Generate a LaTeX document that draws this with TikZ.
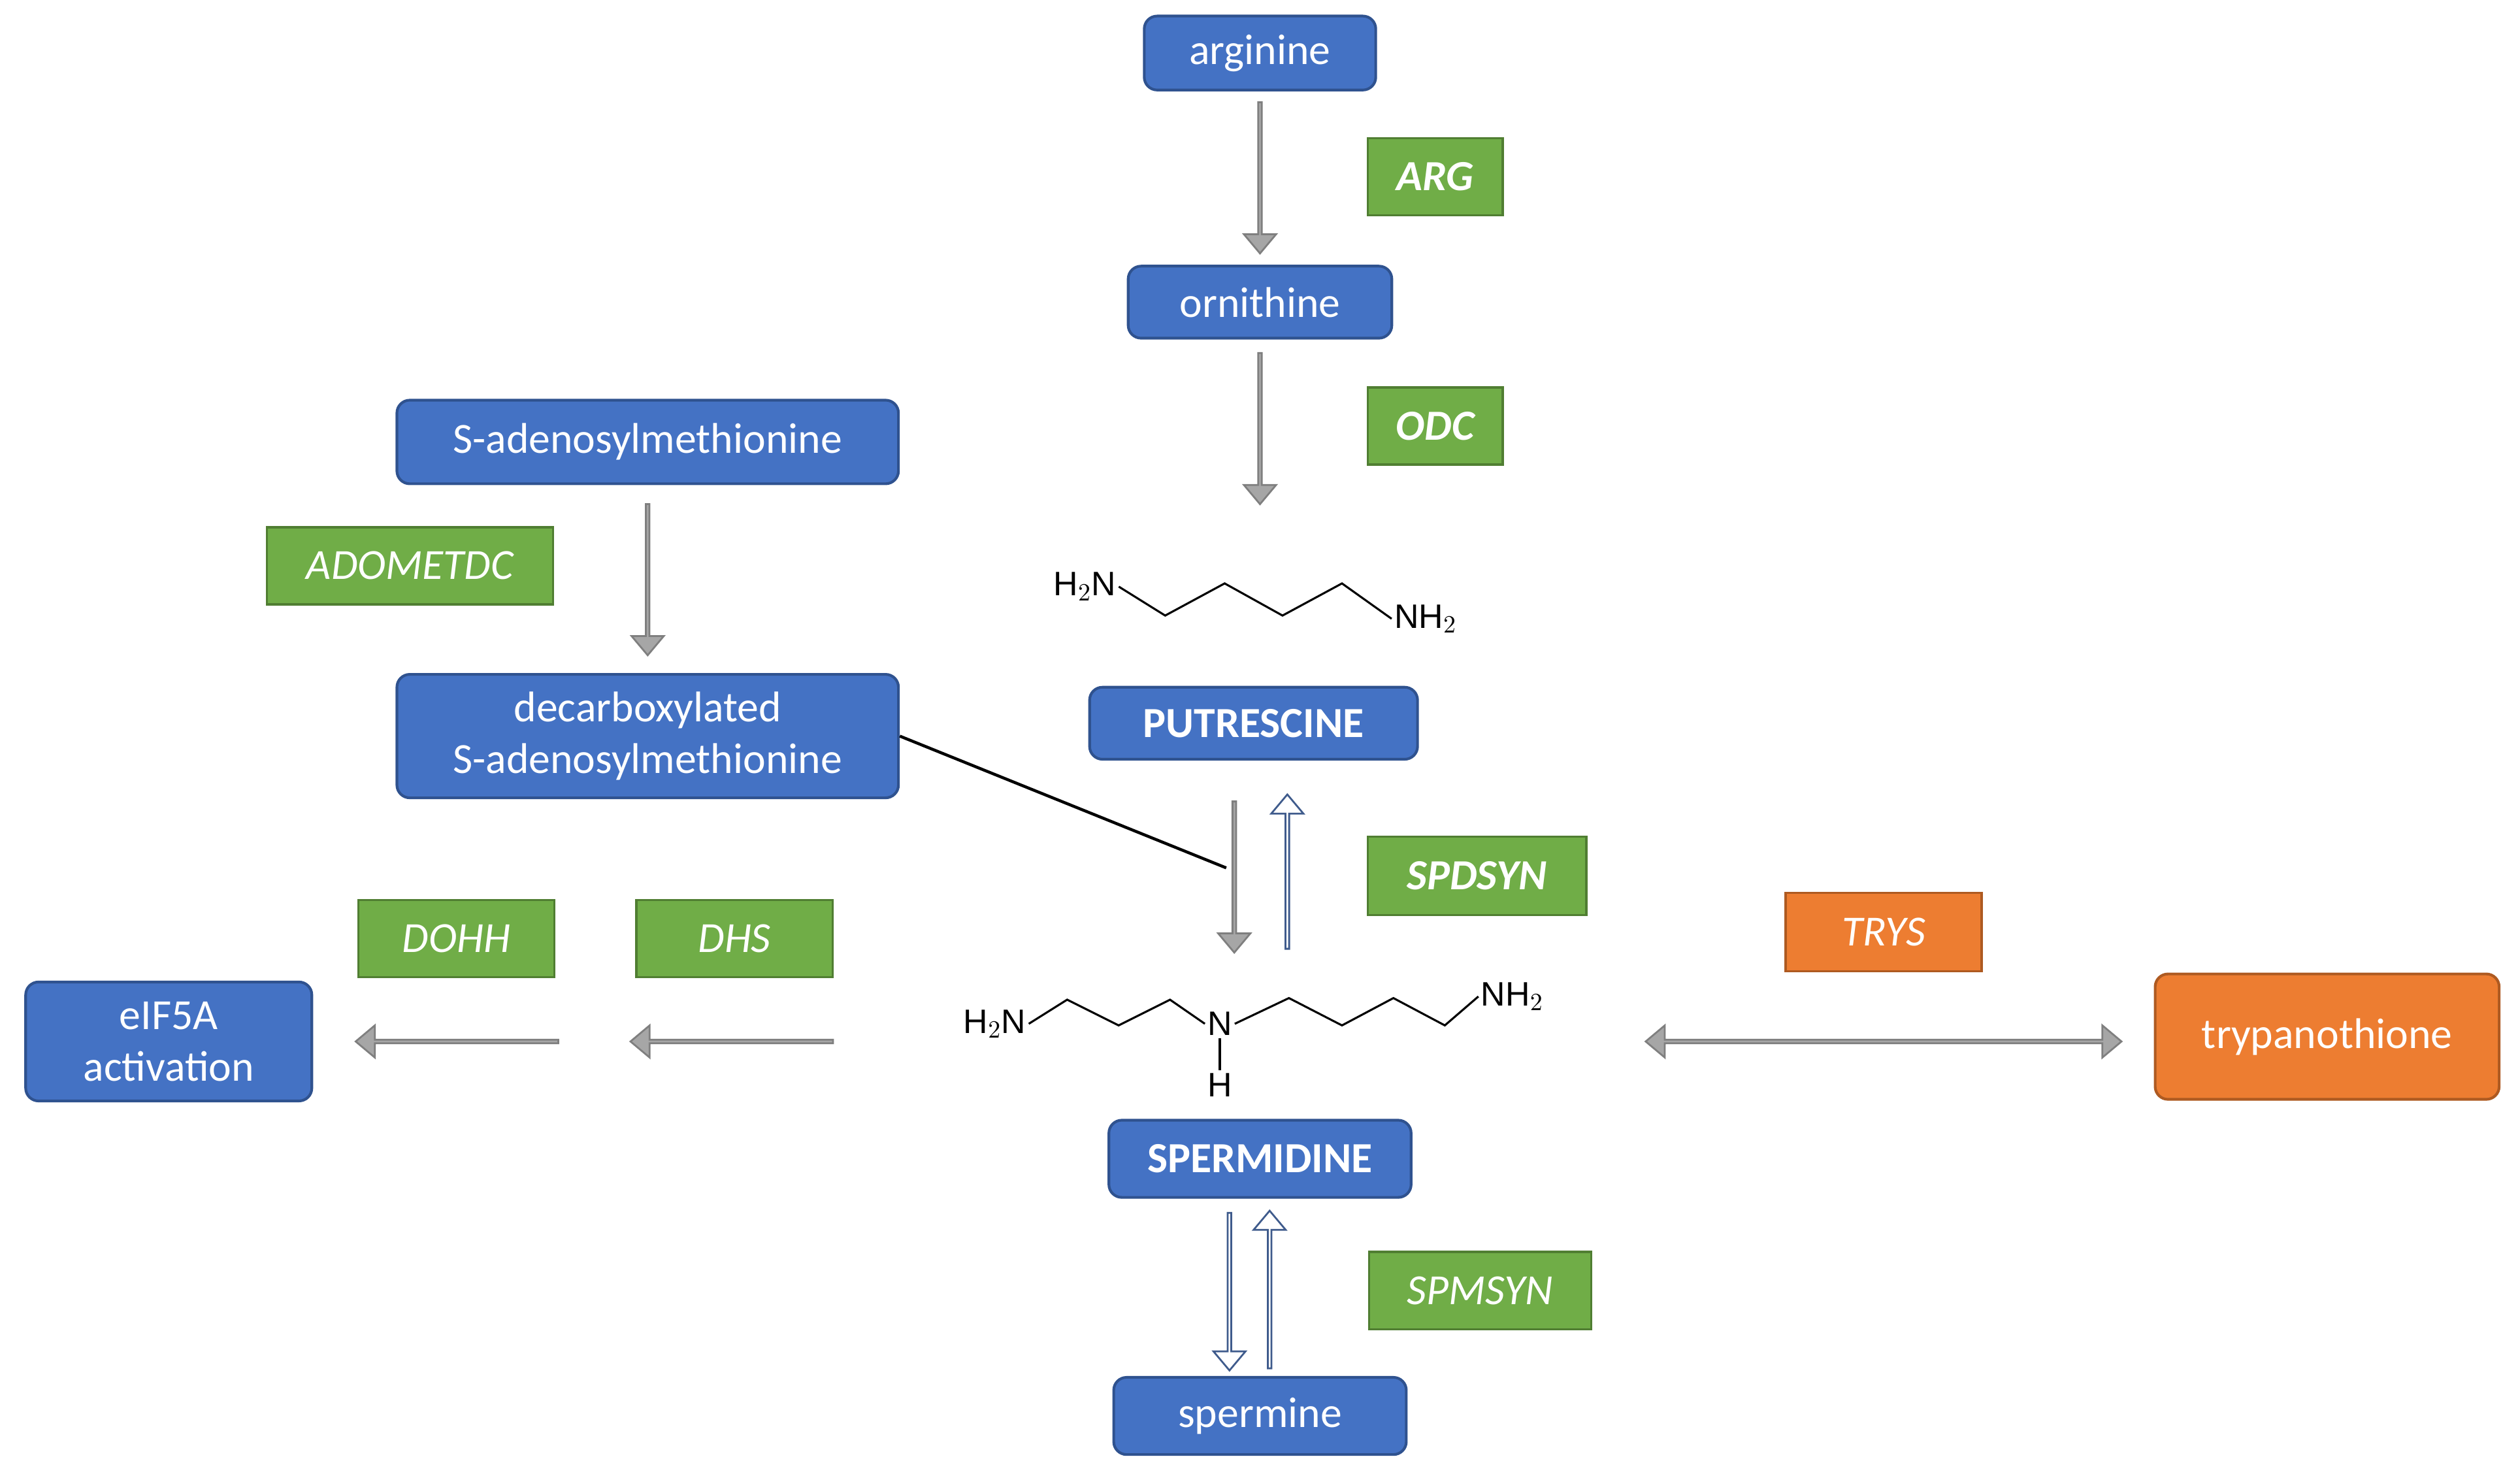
\documentclass[tikz,border=0pt]{standalone}
\usepackage{fontspec}
\setmainfont{Carlito}
\newfontfamily\chemf{Liberation Sans}
\usetikzlibrary{shapes.arrows}
\definecolor{bfill}{HTML}{4472C4}\definecolor{bdraw}{HTML}{2F528F}
\definecolor{gfill}{HTML}{70AD47}\definecolor{gdraw}{HTML}{507E32}
\definecolor{ofill}{HTML}{ED7D31}\definecolor{odraw}{HTML}{AE5A21}
\definecolor{afill}{HTML}{A6A6A6}\definecolor{adraw}{HTML}{7F7F7F}
\begin{document}
\begin{tikzpicture}[x=0.025cm,y=-0.025cm,
 box/.style={draw=bdraw,fill=bfill,line width=1.2pt,rounded corners=0.2cm,text=white,font=\fontsize{19}{23}\selectfont,align=center,inner sep=0pt},
 enz/.style={draw=gdraw,fill=gfill,line width=1pt,text=white,font=\fontsize{19}{23}\selectfont\itshape,inner sep=0pt},
 arr/.style={single arrow,draw=adraw,fill=afill,line width=0.8pt,minimum width=0.5cm,single arrow head extend=0.11cm,inner sep=0pt,single arrow tip angle=80},
 warr/.style={arr,fill=white,draw=bdraw!80!gray},
 chem/.style={font=\chemf\fontsize{15}{17}\selectfont,inner sep=1pt},
 bond/.style={line width=0.9pt}]
\useasboundingbox (0,0) rectangle (1568,918);
% boxes
\node[box,minimum width=3.6cm,minimum height=1.15cm] (arg) at (784,33) {arginine};
\node[box,minimum width=4.1cm,minimum height=1.12cm] (orn) at (784,188) {ornithine};
\node[box,minimum width=7.8cm,minimum height=1.3cm] (sam) at (403,275) {S-adenosylmethionine};
\node[box,minimum width=7.8cm,minimum height=1.92cm] (dsam) at (403,458) {decarboxylated\\S-adenosylmethionine};
\node[box,minimum width=5.1cm,minimum height=1.12cm,font=\fontsize{19}{23}\selectfont\bfseries] (put) at (780,450) {PUTRESCINE};
\node[box,minimum width=4.7cm,minimum height=1.2cm,font=\fontsize{19}{23}\selectfont\bfseries] (spd) at (784,721) {SPERMIDINE};
\node[box,minimum width=4.55cm,minimum height=1.2cm] (spm) at (784,881) {spermine};
\node[box,minimum width=4.45cm,minimum height=1.85cm] (eif) at (105,648) {eIF5A\\activation};
\node[box,draw=odraw,fill=ofill,minimum width=5.35cm,minimum height=1.95cm] (try) at (1448,645) {trypanothione};
% enzymes
\node[enz,minimum width=2.1cm,minimum height=1.2cm,font=\fontsize{19}{23}\selectfont\bfseries\itshape] (ARG) at (893,110) {ARG};
\node[enz,minimum width=2.1cm,minimum height=1.2cm,font=\fontsize{19}{23}\selectfont\bfseries\itshape] (ODC) at (893,265) {ODC};
\node[enz,minimum width=4.45cm,minimum height=1.2cm] (ADO) at (255,352) {ADOMETDC};
\node[enz,minimum width=3.4cm,minimum height=1.22cm,font=\fontsize{19}{23}\selectfont\bfseries\itshape] (SPD) at (919,545) {SPDSYN};
\node[enz,minimum width=3.05cm,minimum height=1.2cm] (DOHH) at (284,584) {DOHH};
\node[enz,minimum width=3.05cm,minimum height=1.2cm] (DHS) at (457,584) {DHS};
\node[enz,draw=odraw,fill=ofill,minimum width=3.05cm,minimum height=1.22cm] (TRYS) at (1172,580) {TRYS};
\node[enz,minimum width=3.45cm,minimum height=1.2cm] (SPM) at (921,803) {SPMSYN};
% putrescine structure
\node[chem] (p1) at (675,365) {H$_2$N};
\node[chem] (p2) at (887,385) {NH$_2$};
\draw[bond] (p1.east) -- (725,383) -- (762,363) -- (798,383) -- (835,363) -- (p2.west);
% spermidine structure
\node[chem] (s1) at (619,637) {H$_2$N};
\node[chem] (sN) at (759,637) {N};
\node[chem] (sH) at (759,675) {H};
\node[chem] (s2) at (941,620) {NH$_2$};
\draw[bond] (s1.east) -- (664,622) -- (696,638) -- (728,622) -- (sN.west);
\draw[bond] (sN.east) -- (802,621) -- (835,638) -- (867,621) -- (899,638) -- (s2.west);
\draw[bond] (sN.south) -- (sH.north);
% block arrows
\node[arr,minimum height=2.35cm,rotate=-90] (a1) at (784,110) {};
\node[arr,minimum height=2.35cm,rotate=-90] (a2) at (784,266) {};
\node[arr,minimum height=2.35cm,rotate=-90] (a3) at (403,360) {};
\node[arr,minimum height=2.35cm,rotate=-90] (a4) at (768,545) {};
\node[warr,minimum height=2.4cm,rotate=90] (a5) at (801,543) {};
\node[warr,minimum height=2.45cm,rotate=-90] (a6) at (765,803) {};
\node[warr,minimum height=2.45cm,rotate=90] (a7) at (790,803) {};
\node[arr,minimum height=3.15cm,rotate=180] (a8) at (456,648) {};
\node[arr,minimum height=3.15cm,rotate=180] (a9) at (285,648) {};
\node[double arrow,draw=adraw,fill=afill,line width=0.8pt,minimum width=0.5cm,double arrow head extend=0.11cm,inner sep=0pt,double arrow tip angle=80,minimum height=7.4cm] (a10) at (1172,648) {};
% link line
\coordinate (j) at (763,540);
\draw[line width=1.3pt] (dsam.east) -- (j);
\end{tikzpicture}
\end{document}
